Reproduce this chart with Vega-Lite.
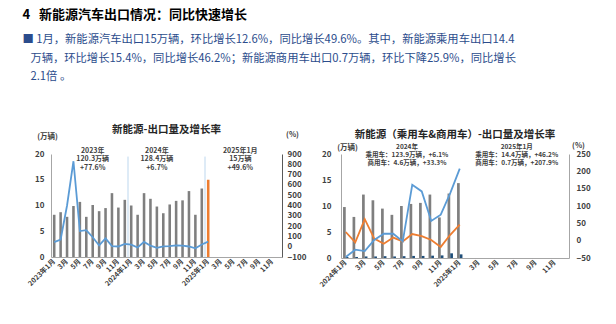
{
  "$schema": "https://vega.github.io/schema/vega-lite/v6.json",
  "background": "white",
  "padding": {"left": 22, "top": 9, "right": 10, "bottom": 5},
  "bounds": "flush",
  "spacing": 59,
  "title": {
    "text": "4\u00a0\u00a0\u00a0新能源汽车出口情况：同比快速增长",
    "subtitle": [
      "■ 1月，新能源汽车出口15万辆，环比增长12.6%，同比增长49.6%。其中，新能源乘用车出口14.4",
      "\u2800万辆，环比增长15.4%，同比增长46.2%；新能源商用车出口0.7万辆，环比下降25.9%，同比增长",
      "\u28002.1倍 。"
    ],
    "anchor": "start",
    "frame": "bounds",
    "dx": -4,
    "fontSize": 13,
    "fontWeight": "bold",
    "color": "#000000",
    "subtitleFontSize": 11.3,
    "subtitleColor": "#2B4C8C",
    "subtitleLineHeight": 18.5,
    "subtitlePadding": 12,
    "offset": 42
  },
  "config": {
    "font": "Noto Sans CJK SC",
    "view": {"stroke": null},
    "title": {"fontSize": 10.5, "fontWeight": "bold", "color": "#262626", "anchor": "middle"},
    "axis": {
      "labelFontWeight": "bold",
      "labelColor": "#404040",
      "labelFontSize": 8,
      "ticks": false,
      "grid": false,
      "domainColor": "#A6A6A6",
      "titleFontSize": 7.5,
      "titleFontWeight": "bold",
      "titleColor": "#404040"
    }
  },
  "datasets": {
    "left": [
      {"m": "2023-01", "v": 8.2, "g": 45},
      {"m": "2023-02", "v": 8.7, "g": 70},
      {"m": "2023-03", "v": 7.8, "g": 400},
      {"m": "2023-04", "v": 9.9, "g": 830},
      {"m": "2023-05", "v": 10.7, "g": 152},
      {"m": "2023-06", "v": 7.8, "g": 160},
      {"m": "2023-07", "v": 10.1, "g": 92},
      {"m": "2023-08", "v": 8.9, "g": 12},
      {"m": "2023-09", "v": 9.5, "g": 80},
      {"m": "2023-10", "v": 12.4, "g": 5},
      {"m": "2023-11", "v": 9.6, "g": 2},
      {"m": "2023-12", "v": 11.1, "g": 28},
      {"m": "2024-01", "v": 10.0, "g": 20},
      {"m": "2024-02", "v": 8.2, "g": -8},
      {"m": "2024-03", "v": 12.4, "g": 47},
      {"m": "2024-04", "v": 11.3, "g": 10},
      {"m": "2024-05", "v": 9.8, "g": -12},
      {"m": "2024-06", "v": 8.5, "g": 3},
      {"m": "2024-07", "v": 10.2, "g": 5},
      {"m": "2024-08", "v": 10.9, "g": 12},
      {"m": "2024-09", "v": 11.0, "g": 10},
      {"m": "2024-10", "v": 12.8, "g": 2},
      {"m": "2024-11", "v": 8.2, "g": -16},
      {"m": "2024-12", "v": 13.3, "g": 21},
      {"m": "2025-01", "v": 15.0, "g": 49.6}
    ],
    "leftNotes": [
      {"m": "2023-07", "v": 21.3, "t": "2023年\n120.3万辆\n+77.6%"},
      {"m": "2024-05", "v": 21.3, "t": "2024年\n128.4万辆\n+6.7%"},
      {"m": "2025-06", "v": 21.3, "t": "2025年1月\n15万辆\n+49.6%"}
    ],
    "leftDividers": [
      {"m": "2023-12"},
      {"m": "2024-12"}
    ],
    "rbars": [
      {"m": "2024-01", "t": "乘用车", "v": 9.8},
      {"m": "2024-02", "t": "乘用车", "v": 7.9},
      {"m": "2024-03", "t": "乘用车", "v": 12.2},
      {"m": "2024-04", "t": "乘用车", "v": 11.1},
      {"m": "2024-05", "t": "乘用车", "v": 9.5},
      {"m": "2024-06", "t": "乘用车", "v": 8.3},
      {"m": "2024-07", "t": "乘用车", "v": 10.0},
      {"m": "2024-08", "t": "乘用车", "v": 10.4},
      {"m": "2024-09", "t": "乘用车", "v": 10.6},
      {"m": "2024-10", "t": "乘用车", "v": 12.2},
      {"m": "2024-11", "t": "乘用车", "v": 7.8},
      {"m": "2024-12", "t": "乘用车", "v": 12.4},
      {"m": "2025-01", "t": "乘用车", "v": 14.4},
      {"m": "2024-01", "t": "商用车", "v": 0.2},
      {"m": "2024-02", "t": "商用车", "v": 0.2},
      {"m": "2024-03", "t": "商用车", "v": 0.3},
      {"m": "2024-04", "t": "商用车", "v": 0.3},
      {"m": "2024-05", "t": "商用车", "v": 0.35},
      {"m": "2024-06", "t": "商用车", "v": 0.3},
      {"m": "2024-07", "t": "商用车", "v": 0.35},
      {"m": "2024-08", "t": "商用车", "v": 0.4},
      {"m": "2024-09", "t": "商用车", "v": 0.4},
      {"m": "2024-10", "t": "商用车", "v": 0.45},
      {"m": "2024-11", "t": "商用车", "v": 0.5},
      {"m": "2024-12", "t": "商用车", "v": 0.9},
      {"m": "2025-01", "t": "商用车", "v": 0.7}
    ],
    "rlines": [
      {"m": "2024-01", "s": "乘用车", "g": 25},
      {"m": "2024-02", "s": "乘用车", "g": -5},
      {"m": "2024-03", "s": "乘用车", "g": 62},
      {"m": "2024-04", "s": "乘用车", "g": 6},
      {"m": "2024-05", "s": "乘用车", "g": -9},
      {"m": "2024-06", "s": "乘用车", "g": 9},
      {"m": "2024-07", "s": "乘用车", "g": -2},
      {"m": "2024-08", "s": "乘用车", "g": 19},
      {"m": "2024-09", "s": "乘用车", "g": 13},
      {"m": "2024-10", "s": "乘用车", "g": 2},
      {"m": "2024-11", "s": "乘用车", "g": -18},
      {"m": "2024-12", "s": "乘用车", "g": 17},
      {"m": "2025-01", "s": "乘用车", "g": 46.2},
      {"m": "2024-01", "s": "商用车", "g": -47},
      {"m": "2024-02", "s": "商用车", "g": -26},
      {"m": "2024-03", "s": "商用车", "g": -30},
      {"m": "2024-04", "s": "商用车", "g": 2},
      {"m": "2024-05", "s": "商用车", "g": 20},
      {"m": "2024-06", "s": "商用车", "g": 20},
      {"m": "2024-07", "s": "商用车", "g": -2},
      {"m": "2024-08", "s": "商用车", "g": 161},
      {"m": "2024-09", "s": "商用车", "g": 142},
      {"m": "2024-10", "s": "商用车", "g": 57},
      {"m": "2024-11", "s": "商用车", "g": 75},
      {"m": "2024-12", "s": "商用车", "g": 137},
      {"m": "2025-01", "s": "商用车", "g": 207.9}
    ],
    "rnote1": [
      {"m": "2024-07", "v": 22.0, "t": "2024年\n乘用车：123.9万辆，+6.1%\n商用车：4.6万辆，+33.3%"}
    ],
    "rnote2": [
      {"m": "2025-07", "v": 22.0, "t": "2025年1月\n乘用车：14.4万辆，+46.2%\n商用车：0.7万辆，+207.9%"}
    ]
  },
  "hconcat": [
    {
      "width": 231,
      "height": 103,
      "title": {"text": "新能源-出口量及增长率", "offset": -5},
      "encoding": {
        "x": {
          "field": "m",
          "type": "ordinal",
          "title": null,
          "scale": {
            "domain": ["2023-01","2023-02","2023-03","2023-04","2023-05","2023-06","2023-07","2023-08","2023-09","2023-10","2023-11","2023-12","2024-01","2024-02","2024-03","2024-04","2024-05","2024-06","2024-07","2024-08","2024-09","2024-10","2024-11","2024-12","2025-01","2025-02","2025-03","2025-04","2025-05","2025-06","2025-07","2025-08","2025-09","2025-10","2025-11","2025-12"],
            "paddingInner": 0.6,
            "paddingOuter": 0.3
          },
          "axis": {
            "labelAngle": -45,
            "labelAlign": "right",
            "labelBaseline": "middle",
            "labelFontSize": 7,
            "labelPadding": 3,
            "labelOverlap": false,
            "labelExpr": "toNumber(substring(datum.value,5)) == 1 ? substring(datum.value,0,4) + '年1月' : (toNumber(substring(datum.value,5)) % 2 == 1 ? toNumber(substring(datum.value,5)) + '月' : '')"
          }
        }
      },
      "layer": [
        {
          "layer": [
            {
              "data": {"name": "left"},
              "mark": {"type": "bar"},
              "encoding": {
                "y": {
                  "field": "v",
                  "type": "quantitative",
                  "scale": {"domain": [0, 20], "nice": false},
                  "axis": {"values": [0, 5, 10, 15, 20], "title": "(万辆)", "titleAngle": 0, "titleAlign": "center", "titleBaseline": "middle", "titleX": -4, "titleY": -18, "labelPadding": 7}
                },
                "color": {"condition": {"test": "datum.m === '2025-01'", "value": "#ED7D31"}, "value": "#7F7F7F"}
              }
            },
            {
              "data": {"name": "leftDividers"},
              "mark": {"type": "rule", "color": "#BDD7EE", "strokeWidth": 1},
              "encoding": {
                "x": {"field": "m", "type": "ordinal", "bandPosition": 1.75, "title": null},
                "y": {
                  "datum": 19.5,
                  "type": "quantitative",
                  "scale": {"domain": [0, 20], "nice": false},
                  "axis": {"values": [0, 5, 10, 15, 20], "title": "(万辆)", "titleAngle": 0, "titleAlign": "center", "titleBaseline": "middle", "titleX": -4, "titleY": -18, "labelPadding": 7}
                },
                "y2": {"datum": 0}
              }
            },
            {
              "data": {"name": "leftNotes"},
              "mark": {"type": "text", "lineBreak": "\n", "baseline": "top", "align": "center", "fontSize": 7, "fontWeight": "bold", "color": "#404040", "lineHeight": 8.2},
              "encoding": {
                "x": {"field": "m", "type": "ordinal", "bandPosition": 0.5, "title": null},
                "y": {
                  "field": "v",
                  "type": "quantitative",
                  "scale": {"domain": [0, 20], "nice": false},
                  "axis": {"values": [0, 5, 10, 15, 20], "title": "(万辆)", "titleAngle": 0, "titleAlign": "center", "titleBaseline": "middle", "titleX": -4, "titleY": -18, "labelPadding": 7}
                },
                "text": {"field": "t"}
              }
            }
          ]
        },
        {
          "data": {"name": "left"},
          "mark": {"type": "line", "color": "#5B9BD5", "strokeWidth": 1.8},
          "encoding": {
            "y": {
              "field": "g",
              "type": "quantitative",
              "scale": {"domain": [-100, 900], "nice": false},
              "axis": {"orient": "right", "values": [-100, 0, 100, 200, 300, 400, 500, 600, 700, 800, 900], "title": "(%)", "titleAngle": 0, "titleAlign": "center", "titleBaseline": "middle", "titleX": 10, "titleY": -20, "labelPadding": 5, "domainColor": "#595959"}
            }
          }
        }
      ],
      "resolve": {"scale": {"y": "independent"}}
    },
    {
      "width": 228,
      "height": 104,
      "title": {"text": "新能源（乘用车&商用车）-出口量及增长率", "offset": 1},
      "encoding": {
        "x": {
          "field": "m",
          "type": "ordinal",
          "title": null,
          "scale": {
            "domain": ["2024-01","2024-02","2024-03","2024-04","2024-05","2024-06","2024-07","2024-08","2024-09","2024-10","2024-11","2024-12","2025-01","2025-02","2025-03","2025-04","2025-05","2025-06","2025-07","2025-08","2025-09","2025-10","2025-11","2025-12"],
            "paddingInner": 0.43,
            "paddingOuter": 0.215
          },
          "axis": {
            "labelAngle": -45,
            "labelAlign": "right",
            "labelBaseline": "middle",
            "labelFontSize": 7,
            "labelPadding": 3,
            "labelOverlap": false,
            "labelExpr": "toNumber(substring(datum.value,5)) == 1 ? substring(datum.value,0,4) + '年1月' : (toNumber(substring(datum.value,5)) % 2 == 1 ? toNumber(substring(datum.value,5)) + '月' : '')"
          }
        }
      },
      "layer": [
        {
          "layer": [
            {
              "data": {"name": "rbars"},
              "mark": {"type": "bar"},
              "encoding": {
                "y": {
                  "field": "v",
                  "type": "quantitative",
                  "scale": {"domain": [0, 20], "nice": false},
                  "axis": {"values": [0, 5, 10, 15, 20], "title": "(万辆)", "titleAngle": 0, "titleAlign": "center", "titleBaseline": "middle", "titleX": 6, "titleY": -7, "labelPadding": 10}
                },
                "xOffset": {"field": "t", "type": "nominal", "scale": {"domain": ["乘用车", "商用车"], "paddingInner": 0}},
                "color": {"condition": {"test": "datum.t === '商用车'", "value": "#1F4E79"}, "value": "#7F7F7F"}
              }
            },
            {
              "data": {"name": "rnote1"},
              "mark": {"type": "text", "lineBreak": "\n", "baseline": "top", "align": "center", "fontSize": 6.5, "fontWeight": "bold", "color": "#404040", "lineHeight": 8.2},
              "encoding": {
                "x": {"field": "m", "type": "ordinal", "bandPosition": 1.28, "title": null},
                "y": {
                  "field": "v",
                  "type": "quantitative",
                  "scale": {"domain": [0, 20], "nice": false},
                  "axis": {"values": [0, 5, 10, 15, 20], "title": "(万辆)", "titleAngle": 0, "titleAlign": "center", "titleBaseline": "middle", "titleX": 6, "titleY": -7, "labelPadding": 10}
                },
                "text": {"field": "t"}
              }
            },
            {
              "data": {"name": "rnote2"},
              "mark": {"type": "text", "lineBreak": "\n", "baseline": "top", "align": "center", "fontSize": 6.5, "fontWeight": "bold", "color": "#404040", "lineHeight": 8.2},
              "encoding": {
                "x": {"field": "m", "type": "ordinal", "bandPosition": 0.5, "title": null},
                "y": {
                  "field": "v",
                  "type": "quantitative",
                  "scale": {"domain": [0, 20], "nice": false},
                  "axis": {"values": [0, 5, 10, 15, 20], "title": "(万辆)", "titleAngle": 0, "titleAlign": "center", "titleBaseline": "middle", "titleX": 6, "titleY": -7, "labelPadding": 10}
                },
                "text": {"field": "t"}
              }
            }
          ]
        },
        {
          "data": {"name": "rlines"},
          "mark": {"type": "line", "strokeWidth": 1.8},
          "encoding": {
            "y": {
              "field": "g",
              "type": "quantitative",
              "scale": {"domain": [-50, 250], "nice": false},
              "axis": {"orient": "right", "values": [-50, 0, 50, 100, 150, 200, 250], "title": "(%)", "titleAngle": 0, "titleAlign": "center", "titleBaseline": "middle", "titleX": 9, "titleY": -9, "labelPadding": 7}
            },
            "color": {"field": "s", "type": "nominal", "scale": {"domain": ["乘用车", "商用车"], "range": ["#ED7D31", "#5B9BD5"]}, "legend": null}
          }
        }
      ],
      "resolve": {"scale": {"y": "independent"}}
    }
  ]
}
